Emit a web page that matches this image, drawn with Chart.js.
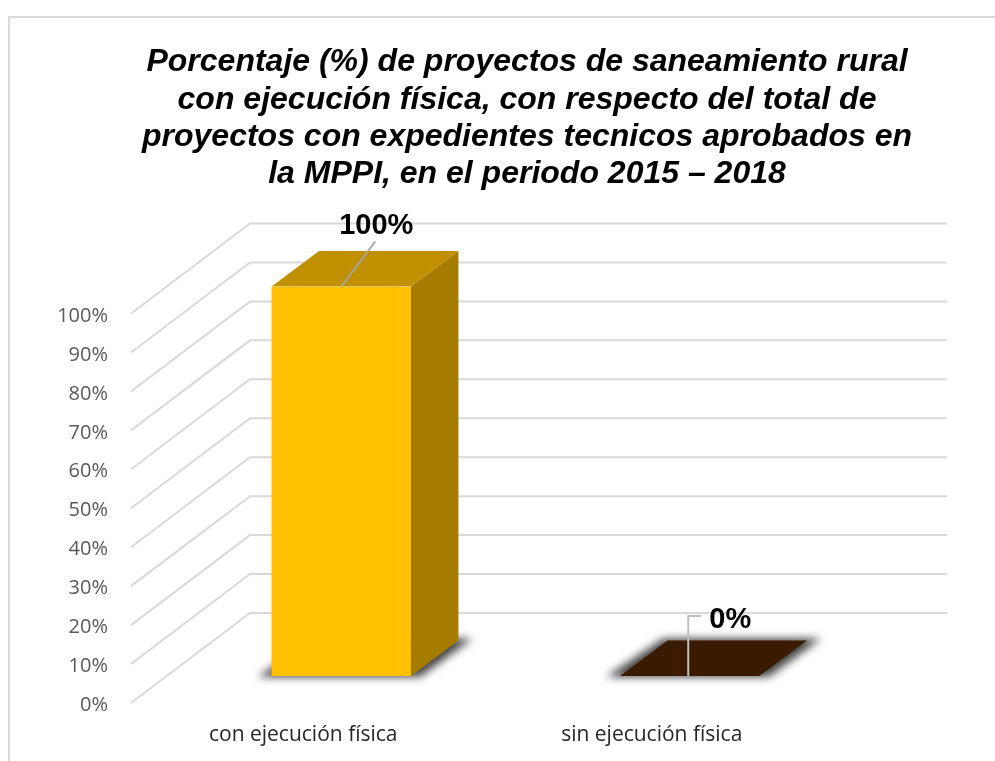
<!DOCTYPE html>
<html lang="es">
    <head>
        <meta charset="UTF-8" />
        <title>Proyectos de saneamiento rural</title>
        <style>
            html, body { margin: 0; padding: 0; background: #fff; }
            #wrap { position: relative; width: 995px; height: 761px; overflow: hidden; }
            #frame {
                position: absolute; left: 8px; top: 16px; width: 1100px; height: 900px;
                border: 2px solid #d9d9d9;
            }
            canvas { position: absolute; left: 0; top: 0; }
        </style>
    </head>
    <body>
        <div id="wrap">
            <div id="frame"></div>
            <canvas id="chart" width="995" height="761"></canvas>
        </div>

        <script src="https://cdn.jsdelivr.net/npm/chart.js"></script>
        <script>
            const categories = ["con ejecución física", "sin ejecución física"];
            const values = [100, 0];
            const titleLines = [
                "Porcentaje (%) de proyectos de saneamiento rural",
                "con ejecución física, con respecto del total de",
                "proyectos con expedientes tecnicos aprobados en",
                "la MPPI, en el periodo 2015 – 2018"
            ];

            const frontColors = ["#ffc000", "#3a1b00"];
            const topColors = ["#c09000", "#3a1b00"];
            const sideColors = ["#a67c00", "#2c1400"];

            // depth of the fake 3d box
            const wallDepth = { x: 119, y: -90 };
            const barShift = { x: 36, y: -27 };
            const barDepth = { x: 47.5, y: -35.5 };
            const wallWidth = 697;

            function poly(ctx, pts) {
                ctx.beginPath();
                pts.forEach((p, i) => (i ? ctx.lineTo(p[0], p[1]) : ctx.moveTo(p[0], p[1])));
                ctx.closePath();
            }

            const box3d = {
                id: "box3d",
                afterLayout(chart) {
                    // title is centred on the plot with its depth, not on the axis box
                    chart.titleBlock.left = 59;
                    chart.titleBlock.right = 995;
                },
                beforeDatasetsDraw(chart) {
                    const ctx = chart.ctx;
                    const y = chart.scales.y;
                    const left = chart.chartArea.left;
                    const bars = chart.getDatasetMeta(0).data;

                    // walls: one bent line per tick
                    ctx.save();
                    ctx.strokeStyle = "#d9d9d9";
                    ctx.lineWidth = 2;
                    y.ticks.forEach((t) => {
                        const py = y.getPixelForValue(t.value);
                        ctx.beginPath();
                        ctx.moveTo(left, py);
                        ctx.lineTo(left + wallDepth.x, py + wallDepth.y);
                        ctx.lineTo(left + wallDepth.x + wallWidth, py + wallDepth.y);
                        ctx.stroke();
                    });
                    ctx.restore();

                    bars.forEach((bar, i) => {
                        const x0 = bar.x - bar.width / 2 + barShift.x;
                        const x1 = bar.x + bar.width / 2 + barShift.x;
                        const top = bar.y + barShift.y;
                        const base = bar.base + barShift.y;
                        const dx = barDepth.x, dy = barDepth.y;

                        // floor shadow
                        ctx.save();
                        ctx.filter = "blur(4px)";
                        ctx.fillStyle = "#444444";
                        poly(ctx, [
                            [x0 - 14, base + 1], [x1 + 9, base + 1],
                            [x1 + dx + 14, base + dy - 2], [x0 + dx - 4, base + dy - 2]
                        ]);
                        ctx.fill();
                        ctx.restore();

                        ctx.fillStyle = sideColors[i];
                        poly(ctx, [[x1, top], [x1 + dx, top + dy], [x1 + dx, base + dy], [x1, base]]);
                        ctx.fill();

                        ctx.fillStyle = topColors[i];
                        poly(ctx, [[x0, top], [x0 + dx, top + dy], [x1 + dx, top + dy], [x1, top]]);
                        ctx.fill();
                    });

                    // front faces are the real bars, pushed into the box
                    ctx.save();
                    ctx.translate(barShift.x, barShift.y);
                },
                afterDatasetsDraw(chart) {
                    const ctx = chart.ctx;
                    ctx.restore();

                    const bars = chart.getDatasetMeta(0).data;
                    ctx.save();
                    ctx.strokeStyle = "#a6a6a6";
                    ctx.lineWidth = 2;
                    ctx.fillStyle = "#000";
                    ctx.font = "bold 29px 'Liberation Sans'";
                    ctx.textAlign = "center";
                    ctx.textBaseline = "middle";

                    // leader and label of the tall bar
                    const a = bars[0];
                    const ax = a.x + barShift.x;
                    const ay = a.y + barShift.y;
                    ctx.beginPath();
                    ctx.moveTo(ax, ay);
                    ctx.lineTo(ax + 34, ay - 45);
                    ctx.stroke();
                    ctx.fillText(values[0] + "%", ax + 35, ay - 60.5);

                    // leader and label of the flat bar
                    const b = bars[1];
                    const bx = b.x + barShift.x - 1.5;
                    const by = b.y + barShift.y;
                    ctx.strokeStyle = "#bfbfbf";
                    ctx.beginPath();
                    ctx.moveTo(bx, by);
                    ctx.lineTo(bx, by - 60);
                    ctx.lineTo(bx + 13, by - 60);
                    ctx.stroke();
                    ctx.fillText(values[1] + "%", bx + 42, by - 56.5);
                    ctx.restore();
                }
            };

            new Chart(document.getElementById("chart"), {
                type: "bar",
                data: {
                    labels: categories,
                    datasets: [{
                        data: values,
                        backgroundColor: frontColors,
                        borderWidth: 0,
                        categoryPercentage: 1,
                        barPercentage: 0.4
                    }]
                },
                options: {
                    responsive: false,
                    animation: false,
                    layout: { padding: { left: 0, right: 167, top: 0, bottom: 0 } },
                    plugins: {
                        legend: { display: false },
                        tooltip: { enabled: false },
                        title: {
                            display: true,
                            text: titleLines,
                            color: "#000",
                            font: { family: "'Liberation Sans'", size: 32, weight: "bold", style: "italic", lineHeight: 1.16 },
                            padding: { top: 44, bottom: 121 }
                        }
                    },
                    scales: {
                        x: {
                            grid: { display: false },
                            border: { display: false },
                            ticks: {
                                color: "#262626",
                                padding: 11.5,
                                labelOffset: -2,
                                maxRotation: 0,
                                font: { family: "'Open Sans'", size: 21 }
                            },
                            afterFit(s) { s.height = 58; }
                        },
                        y: {
                            min: 0,
                            max: 100,
                            grid: { display: false },
                            border: { display: false },
                            ticks: {
                                stepSize: 10,
                                color: "#595959",
                                padding: 15,
                                labelOffset: 2.5,
                                font: { family: "'Open Sans'", size: 20 },
                                callback: (v) => v + "%"
                            },
                            afterFit(s) {
                                s.width = 131;
                                s.paddingTop = 0;
                                s.paddingBottom = 0;
                            }
                        }
                    }
                },
                plugins: [box3d]
            });
        </script>
    </body>
</html>
